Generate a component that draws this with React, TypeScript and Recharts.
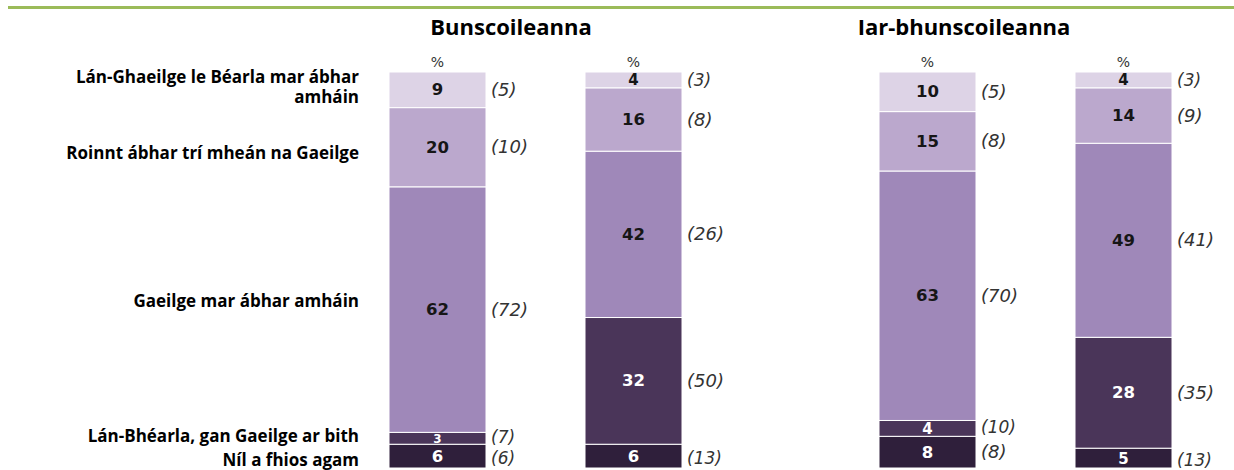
import React from 'react';
import { BarChart, Bar, XAxis, YAxis, LabelList } from 'recharts';

// groups shown as titles
const groupTitles = ['Bunscoileanna', 'Iar-bhunscoileanna'];

// stack order: bottom -> top
const categoryLines = [
  ['Níl a fhios agam'],
  ['Lán-Bhéarla, gan Gaeilge ar bith'],
  ['Gaeilge mar ábhar amháin'],
  ['Roinnt ábhar trí mheán na Gaeilge'],
  ['Lán-Ghaeilge le Béarla mar ábhar', 'amháin'],
];

// % per bar, and the bracketed figures beside them
const bunscoil1 = [6, 3, 62, 20, 9];
const bunscoil1Paren = [6, 7, 72, 10, 5];
const bunscoil2 = [6, 32, 42, 16, 4];
const bunscoil2Paren = [13, 50, 26, 8, 3];
const iarBun1 = [8, 4, 63, 15, 10];
const iarBun1Paren = [8, 10, 70, 8, 5];
const iarBun2 = [5, 28, 49, 14, 4];
const iarBun2Paren = [13, 35, 41, 9, 3];

const series = [
  { color: '#2f1f3b', text: '#ffffff', catDy: 5, parenDy: 2 },
  { color: '#4a3559', text: '#ffffff', catDy: -1, parenDy: -1 },
  { color: '#9f88b9', text: '#161616', catDy: -7, parenDy: 0 },
  { color: '#bba8cd', text: '#161616', catDy: 7, parenDy: 0 },
  { color: '#ddd3e6', text: '#161616', catDy: -1, parenDy: 0 },
];

const toRows = (bars: { name: string; v: number[]; p: number[] }[]) =>
  bars.map((b) => {
    const row: any = { name: b.name };
    b.v.forEach((val, i) => {
      row[`v${i}`] = val;
      row[`p${i}`] = b.p[i];
    });
    return row;
  });

const bunData = toRows([
  { name: 'b1', v: bunscoil1, p: bunscoil1Paren },
  { name: 'b2', v: bunscoil2, p: bunscoil2Paren },
]);
const iarData = toRows([
  { name: 'i1', v: iarBun1, p: iarBun1Paren },
  { name: 'i2', v: iarBun2, p: iarBun2Paren },
]);

const box = (p: any) => {
  const vb = p.viewBox ?? {};
  return {
    x: Number(vb.x ?? p.x),
    y: Number(vb.y ?? p.y),
    w: Number(vb.width ?? p.width),
    h: Number(vb.height ?? p.height),
  };
};

const valueLabel = (color: string) => (p: any) => {
  const { x, y, w, h } = box(p);
  const small = h < 20;
  return (
    <text
      x={x + w / 2}
      y={y + h / 2 + 1}
      textAnchor="middle"
      dominantBaseline="middle"
      fill={color}
      fontFamily="'DejaVu Sans', sans-serif"
      fontWeight="bold"
      fontSize={h < 14 ? 12 : small ? 15 : 16.5}
    >
      {p.value}
    </text>
  );
};

const parenLabel = (dy: number) => (p: any) => {
  const { x, y, w, h } = box(p);
  return (
    <text
      x={x + w + 5}
      y={y + h / 2 + 1 + (h < 30 ? dy : 0)}
      dominantBaseline="middle"
      fill="#333"
      fontFamily="'DejaVu Sans', sans-serif"
      fontStyle="italic"
      fontSize={h < 30 ? 17 : 18}
    >
      ({p.value})
    </text>
  );
};

const pctLabel = (p: any) => {
  const { x, y, w } = box(p);
  return (
    <text
      x={x + w / 2}
      y={y - 5}
      textAnchor="middle"
      fill="#333"
      fontFamily="'DejaVu Sans', sans-serif"
      fontSize={14}
    >
      %
    </text>
  );
};

const categoryLabel = (i: number) => (p: any) => {
  if (p.index !== 0) return null;
  const { y, h } = box(p);
  const lines = categoryLines[i];
  const cy = y + h / 2 + series[i].catDy;
  const lh = 20;
  const y0 = cy - ((lines.length - 1) * lh) / 2;
  return (
    <text
      x={359}
      textAnchor="end"
      fill="#000"
      fontFamily="'Open Sans', sans-serif"
      fontWeight="bold"
      fontSize={17}
    >
      {lines.map((l, k) => (
        <tspan key={k} x={359} y={y0 + k * lh} dominantBaseline="middle">
          {l}
        </tspan>
      ))}
    </text>
  );
};

function GroupChart({ data, width, margin, showCategories }: any) {
  return (
    <BarChart width={width} height={470} data={data} margin={margin}>
      <XAxis dataKey="name" hide />
      <YAxis hide domain={[0, 100]} />
      {series.map((s, i) => (
        <Bar
          key={i}
          dataKey={`v${i}`}
          stackId="a"
          fill={s.color}
          stroke="#ffffff"
          strokeWidth={1}
          barSize={97}
          isAnimationActive={false}
        >
          <LabelList dataKey={`v${i}`} content={valueLabel(s.text)} />
          <LabelList dataKey={`p${i}`} content={parenLabel(s.parenDy)} />
          {i === series.length - 1 && <LabelList dataKey="name" content={pctLabel} />}
          {showCategories && <LabelList dataKey={`v${i}`} content={categoryLabel(i)} />}
        </Bar>
      ))}
    </BarChart>
  );
}

const titleStyle: React.CSSProperties = {
  position: 'absolute',
  top: 12,
  width: 300,
  textAlign: 'center',
  fontFamily: "'Open Sans', sans-serif",
  fontWeight: 'bold',
  fontSize: 22,
  lineHeight: '28px',
  color: '#000',
};

export default function App() {
  return (
    <div style={{ position: 'relative', width: 1234, height: 470, background: '#fff', overflow: 'hidden' }}>
      <style>{'body{margin:0}'}</style>
      <div style={{ position: 'absolute', left: 8, right: 0, top: 6, height: 3, background: '#9bbb59' }} />
      <div style={{ ...titleStyle, left: 511 - 150 }}>{groupTitles[0]}</div>
      <div style={{ ...titleStyle, left: 964 - 150 }}>{groupTitles[1]}</div>
      <div style={{ position: 'absolute', left: 0, top: 0 }}>
        <GroupChart
          data={bunData}
          width={741}
          margin={{ top: 72, right: 10, bottom: 2, left: 339 }}
          showCategories
        />
      </div>
      <div style={{ position: 'absolute', left: 780, top: 0 }}>
        <GroupChart
          data={iarData}
          width={454}
          margin={{ top: 72, right: 13, bottom: 2, left: 49 }}
        />
      </div>
    </div>
  );
}
